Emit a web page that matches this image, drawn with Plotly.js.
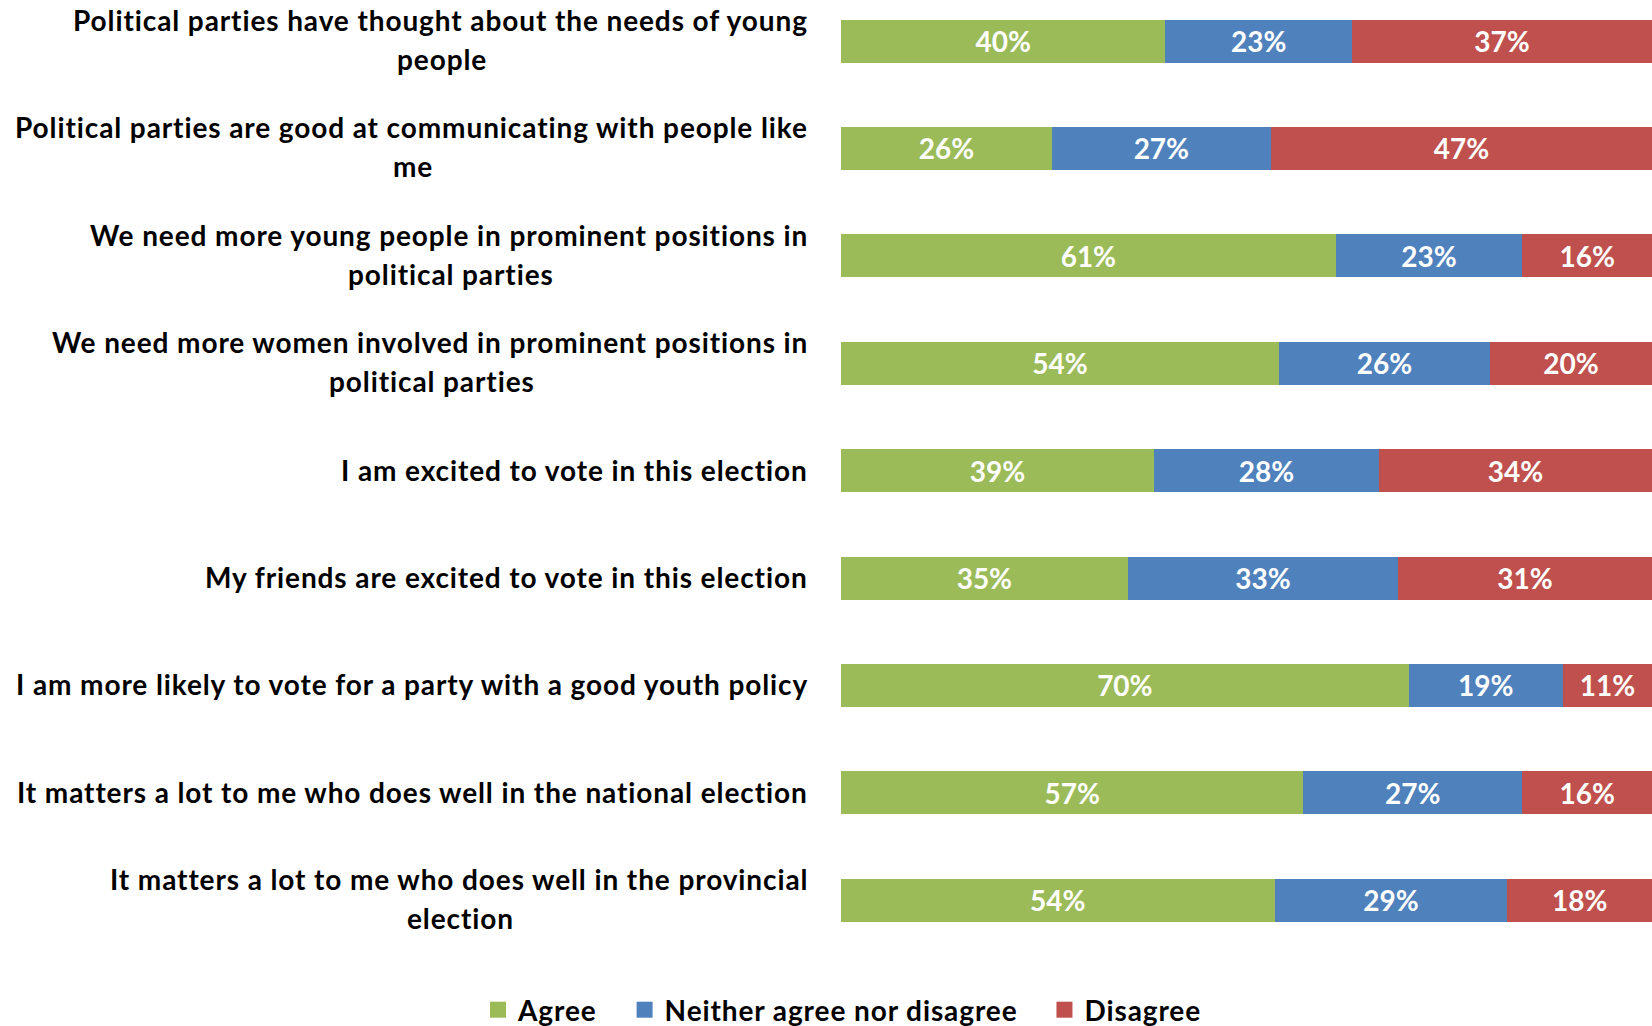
<!DOCTYPE html>
<html><head><meta charset="utf-8">
<script src="https://cdn.plot.ly/plotly-3.0.1.min.js"></script>
<style>
html,body{margin:0;padding:0;background:#fff}
.annotation-text, .legendtext { letter-spacing: 0.9px; }
</style>
</head><body><div id="chart" style="width:1652px;height:1026px"></div>
<script>
const categories = [
  "Political parties have thought about the needs of young<br>people",
  "Political parties are good at communicating with people like<br>me",
  "We need more young people in prominent positions in<br>political parties",
  "We need more women involved in prominent positions in<br>political parties",
  "I am excited to vote in this election",
  "My friends are excited to vote in this election",
  "I am more likely to vote for a party with a good youth policy",
  "It matters a lot to me who does well in the national election",
  "It matters a lot to me who does well in the provincial<br>election"
];
const agree    = [40, 26, 61, 54, 39, 35, 70, 57, 54];
const neither  = [23, 27, 23, 26, 28, 33, 19, 27, 29];
const disagree = [37, 47, 16, 20, 34, 31, 11, 16, 18];
const seriesNames = ["Agree", "Neither agree nor disagree", "Disagree"];
const seriesColors = ["#9BBB59", "#4F81BD", "#C0504D"];

const FONT = "Lato";
const LABEL_SIZE = 28;
const LETTER_SP = 0.9;
const plotLeft = 841;
const labelRight = 810;

function build() {
  const ctx = document.createElement("canvas").getContext("2d");
  ctx.font = "bold " + LABEL_SIZE + "px " + FONT;
  try { ctx.letterSpacing = LETTER_SP + "px"; } catch (e) {}
  const values = [agree, neither, disagree];
  const traces = values.map((v, k) => ({
    type: "bar",
    orientation: "h",
    name: seriesNames[k],
    y: categories,
    x: v,
    text: v.map(d => d + "%"),
    texttemplate: "%{text}",
    textposition: "inside",
    insidetextanchor: "middle",
    constraintext: "none",
    textfont: {family: FONT, size: 28, color: "#ffffff", weight: "bold"},
    marker: {color: seriesColors[k], line: {width: 0}},
    showlegend: false,
    hoverinfo: "skip"
  }));
  // legend entries (square swatches); em-space pads the gap between entries
  seriesNames.forEach((n, k) => traces.push({
    type: "scatter", mode: "markers",
    name: k < seriesNames.length - 1 ? n + "\u2003" : n,
    x: [null], y: [null],
    marker: {symbol: "square", size: 18, color: seriesColors[k]}, showlegend: true, hoverinfo: "skip"
  }));

  const annotations = [];
  const lf = {family: FONT, size: LABEL_SIZE, color: "#000", weight: "bold"};
  categories.forEach(c => {
    const lines = c.split("<br>");
    if (lines.length === 1) {
      annotations.push({xref: "paper", yref: "y", x: 0, y: c, xanchor: "right", yanchor: "middle",
        xshift: -(plotLeft - labelRight), yshift: 1, text: lines[0], showarrow: false, font: lf});
    } else {
      const w1 = ctx.measureText(lines[0]).width;
      annotations.push({xref: "paper", yref: "y", x: 0, y: c, xanchor: "right", yanchor: "middle",
        xshift: -(plotLeft - labelRight), yshift: 21, text: lines[0], showarrow: false, font: lf});
      annotations.push({xref: "paper", yref: "y", x: 0, y: c, xanchor: "center", yanchor: "middle",
        xshift: -(plotLeft - labelRight) - w1 / 2, yshift: -18, text: lines[1], showarrow: false, font: lf});
    }
  });

  const layout = {
    width: 1652, height: 1026,
    margin: {l: plotLeft, r: 0, t: 0, b: 86, pad: 0},
    paper_bgcolor: "#fff", plot_bgcolor: "#fff",
    barmode: "stack", barnorm: "percent", bargap: 0.6,
    xaxis: {range: [0, 100], showticklabels: false, showgrid: false, zeroline: false, showline: false, fixedrange: true},
    yaxis: {type: "category", categoryorder: "array", categoryarray: categories, range: [8.37, -0.382], showticklabels: false, showgrid: false, zeroline: false, showline: false, ticks: ""},
    showlegend: true,
    legend: {orientation: "h", xref: "container", yref: "container", x: 0.510, xanchor: "center", y: 0.0156, yanchor: "middle",
      font: {family: FONT, size: 28, color: "#000", weight: "bold"}, traceorder: "normal", itemclick: false, itemwidth: 30},
    annotations: annotations,
    font: {family: FONT}
  };
  Plotly.newPlot("chart", traces, layout, {displayModeBar: false, staticPlot: true});
}
if (document.fonts && document.fonts.load) {
  document.fonts.load("bold " + LABEL_SIZE + "px " + FONT).then(build, build);
} else build();
</script>
</body></html>
